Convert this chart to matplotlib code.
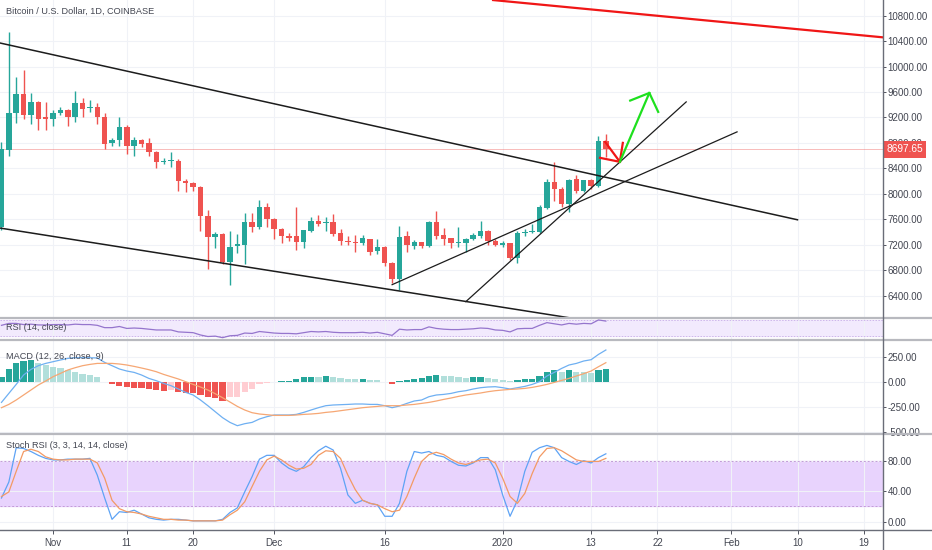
import numpy as np
import pandas as pd
import matplotlib
matplotlib.use('Agg')
from matplotlib import pyplot as plt
from matplotlib.lines import Line2D

plt.rcParams['font.family'] = ['Liberation Sans', 'DejaVu Sans']

# daily candles, Coinbase BTC/USD, from 2019-10-25
start_date = '2019-10-25'
opens = [7478, 8683, 9277, 9572, 9245, 9447, 9200, 9183, 9277, 9324, 9214, 9433, 9345, 9371, 9214,
         8792, 8839, 9058, 8745, 8839, 8792, 8651, 8500, 8510, 8510, 8197, 8165, 8102, 7649, 7320,
         7368, 6932, 7180, 7196, 7556, 7478, 7800, 7603, 7446, 7336, 7336, 7241, 7417, 7573, 7545,
         7560, 7379, 7263, 7245, 7227, 7290, 7107, 7160, 6914, 6663, 7332, 7185, 7238, 7185, 7551,
         7353, 7300, 7230, 7227, 7290, 7341, 7420, 7263, 7200, 7222, 6987, 7384, 7395, 7395, 7785,
         8187, 8083, 7838, 8229, 8046, 8218, 8124, 8828]
highs = [8807, 10545, 9840, 9950, 9590, 9460, 9447, 9324, 9370, 9340, 9622, 9510, 9480, 9420, 9277,
         8870, 9200, 9075, 8900, 8860, 8870, 8680, 8560, 8651, 8540, 8230, 8180, 8120, 7750, 7400,
         7380, 7415, 7368, 7700, 7700, 7900, 7860, 7620, 7460, 7390, 7800, 7430, 7640, 7670, 7640,
         7690, 7440, 7330, 7360, 7360, 7290, 7290, 7175, 6930, 7488, 7410, 7270, 7250, 7580, 7733,
         7455, 7310, 7472, 7300, 7380, 7576, 7430, 7290, 7263, 7230, 7420, 7450, 7520, 7830, 8240,
         8506, 8100, 8229, 8300, 8218, 8230, 8906, 8933]
lows = [7430, 8600, 9120, 9183, 9090, 9011, 8997, 9060, 9245, 9060, 9136, 9200, 9290, 9090, 8698,
        8745, 8745, 8620, 8590, 8730, 8590, 8400, 8470, 8420, 8040, 8025, 8040, 7415, 6822, 7150,
        6900, 6570, 7070, 6900, 7400, 7450, 7480, 7290, 7230, 7260, 7115, 7150, 7400, 7490, 7420,
        7340, 7190, 7200, 7090, 7200, 7040, 7050, 6870, 6600, 6496, 7090, 7130, 7150, 7170, 7290,
        7190, 7150, 7170, 7080, 7270, 7300, 7200, 7180, 7165, 6960, 6914, 7330, 7380, 7380, 7760,
        7889, 7800, 7710, 8020, 8030, 8080, 8100, 8584]
closes = [8698, 9277, 9572, 9245, 9447, 9183, 9183, 9277, 9324, 9214, 9433, 9339, 9360, 9214, 8776,
          8839, 9058, 8745, 8839, 8776, 8651, 8495, 8520, 8526, 8197, 8165, 8102, 7649, 7320, 7368,
          6932, 7165, 7213, 7556, 7478, 7800, 7603, 7446, 7336, 7310, 7241, 7430, 7573, 7520, 7560,
          7368, 7263, 7238, 7230, 7300, 7086, 7160, 6914, 6663, 7316, 7196, 7238, 7185, 7560, 7341,
          7290, 7222, 7245, 7290, 7353, 7420, 7263, 7200, 7222, 6987, 7384, 7395, 7405, 7800, 8187,
          8073, 7838, 8218, 8046, 8218, 8124, 8828, 8698]
last_price = 8697.65

rsi = [57, 62, 62, 59, 60, 58, 58, 59, 59, 58, 60, 59, 59, 57, 51, 51, 54, 49, 50, 49, 47, 45, 45, 45,
       40, 39, 38, 32, 28, 29, 25, 30, 31, 37, 36, 41, 39, 37, 36, 36, 35, 38, 41, 40, 41, 39, 38, 38,
       38, 39, 37, 39, 35, 31, 47, 45, 46, 46, 53, 49, 47, 46, 46, 47, 48, 50, 49, 45, 44, 40, 48, 49,
       49, 57, 64, 61, 58, 62, 60, 62, 61, 71, 68]

macd_line = [-207, -117, -27, 67, 123, 160, 183, 200, 217, 233, 240, 240, 240, 237, 193, 160, 127, 107,
             93, 67, 33, 10, -17, -40, -73, -107, -133, -183, -240, -300, -360, -407, -440, -420, -407,
             -373, -350, -333, -333, -333, -327, -307, -283, -260, -240, -233, -230, -227, -223, -223,
             -227, -227, -240, -260, -243, -217, -193, -183, -150, -133, -127, -117, -100, -90, -73,
             -60, -53, -50, -60, -73, -60, -47, -27, 0, 57, 93, 133, 167, 183, 207, 220, 273, 317]
signal_line = [-260, -227, -183, -133, -83, -33, 7, 50, 83, 117, 140, 160, 173, 183, 183, 183, 177, 167,
               153, 137, 120, 100, 73, 50, 27, 0, -27, -53, -83, -120, -160, -203, -247, -283, -310,
               -323, -330, -337, -337, -337, -333, -327, -323, -317, -307, -300, -290, -280, -270,
               -260, -253, -247, -240, -240, -240, -233, -227, -217, -207, -193, -177, -163, -147,
               -133, -123, -113, -100, -90, -83, -77, -73, -67, -57, -43, -27, -7, 13, 33, 57, 80,
               107, 150, 190]
macd_hist = [44, 127, 190, 207, 217, 183, 167, 150, 133, 117, 100, 80, 67, 43, 0, -27, -40, -53, -60,
             -67, -73, -83, -90, -83, -107, -113, -117, -130, -157, -163, -190, -157, -150, -107, -73,
             -27, -10, -2, 5, 6, 23, 43, 50, 50, 57, 47, 40, 27, 25, 30, 17, 13, 0, -20, 7, 17, 23, 33,
             60, 63, 60, 53, 43, 37, 50, 52, 40, 27, 17, 3, 17, 27, 30, 57, 100, 113, 100, 117, 100,
             100, 83, 117, 123]

stoch_k = [31, 52, 97, 96, 92, 87, 83, 81, 81, 82, 82, 82, 83, 61, 31, 3, 13, 12, 15, 10, 5, 3, 2, 3,
           3, 2, 1, 1, 1, 1, 3, 12, 18, 39, 59, 82, 87, 87, 77, 70, 66, 72, 84, 93, 99, 94, 70, 35,
           24, 28, 24, 22, 7, 7, 24, 66, 92, 90, 92, 87, 85, 79, 74, 73, 77, 84, 84, 68, 35, 7, 28,
           66, 91, 97, 100, 97, 84, 79, 75, 80, 77, 84, 89]
stoch_d = [33, 39, 66, 92, 95, 92, 85, 82, 81, 81, 82, 82, 82, 77, 57, 28, 17, 13, 12, 10, 7, 5, 3, 3,
           2, 2, 1, 1, 1, 1, 2, 9, 15, 26, 46, 66, 81, 86, 81, 74, 69, 70, 75, 87, 93, 92, 83, 61,
           42, 28, 24, 22, 17, 13, 15, 33, 57, 79, 88, 91, 88, 82, 77, 75, 78, 81, 82, 77, 57, 33, 24,
           37, 63, 85, 96, 97, 93, 87, 81, 79, 79, 79, 83]

tick_dates = ['2019-11-01', '2019-11-11', '2019-11-20', '2019-12-01', '2019-12-16', '2020-01-01',
              '2020-01-13', '2020-01-22', '2020-02-01', '2020-02-10', '2020-02-19']
tick_labels = ['Nov', '11', '20', 'Dec', '16', '2020', '13', '22', 'Feb', '10', '19']

price_ticks = [6400, 6800, 7200, 7600, 8000, 8400, 8800, 9200, 9600, 10000, 10400, 10800]
macd_ticks = [-500, -250, 0, 250]
stoch_ticks = [0, 40, 80]

# hand drawn lines (bar index, price)
channel_top = ([-0.2, 108.0], [10371, 7592])
channel_bottom = ([-0.2, 76.9], [7462, 6054])
support_1 = ([53.0, 99.8], [6572, 8974])
support_2 = ([63.0, 92.9], [6305, 9445])
resistance = ([66.7, 119.5], [11046, 10461])
red_arrow = ([81.9, 83.9], [8817, 8503])
red_barbs = ([81.2, 83.9, 84.3], [8566, 8503, 8801])
green_arrow = ([83.9, 87.9], [8503, 9586])
green_barbs = ([85.3, 87.9, 89.1], [9466, 9586, 9288])

UP = '#26a69a'
DOWN = '#ef5350'
GRID = '#f0f2f7'
TXT = '#434651'
W, H = 932, 550
plot_w = 883 / W


def panel(top, bottom):
    a = fig.add_axes([0, 1 - bottom / H, plot_w, (bottom - top) / H])
    for s in a.spines.values():
        s.set_visible(False)
    a.set_xlim(-0.2, 119.6)
    a.set_xticks(tick_x)
    a.tick_params(axis='x', length=0, labelbottom=False)
    a.yaxis.tick_right()
    a.tick_params(axis='y', length=2.5, width=0.7, color='#50535e', pad=0.9,
                  labelsize=7, labelcolor=TXT)
    a.grid(color=GRID, lw=0.8)
    a.set_axisbelow(True)
    return a


start = pd.Timestamp(start_date)
x = np.arange(len(opens))
tick_x = [(pd.Timestamp(d) - start).days for d in tick_dates]

o = np.array(opens)
c = np.array(closes)
candle_col = [UP if cc >= oo else DOWN for oo, cc in zip(o, c)]

fig = plt.figure(figsize=(W / 100, H / 100), dpi=100)

# price panel
ax = panel(0, 318)
ax.set_ylim(6048, 11047)
ax.set_yticks(price_ticks)
ax.set_yticklabels(['%.2f' % v for v in price_ticks])
ax.vlines(x, lows, highs, colors=candle_col, lw=1, zorder=3)
ax.bar(x, np.maximum(np.abs(c - o), 14), bottom=np.minimum(o, c), width=0.74,
       color=candle_col, zorder=4)
ax.axhline(last_price, color=DOWN, lw=0.6, alpha=0.45, zorder=2)
for ln in [channel_top, channel_bottom]:
    ax.plot(*ln, color='#1c1c1c', lw=1.1, zorder=5)
for ln in [support_1, support_2]:
    ax.plot(*ln, color='#1c1c1c', lw=0.9, zorder=5)
ax.plot(*resistance, color='#f01616', lw=1.6, zorder=5)
ax.plot(*red_arrow, color='#f01616', lw=1.6, zorder=6)
ax.plot(*red_barbs, color='#f01616', lw=1.6, zorder=6)
ax.plot(*green_arrow, color='#1ee01e', lw=1.6, zorder=6)
ax.plot(*green_barbs, color='#1ee01e', lw=1.6, zorder=6)
ax.text(0.007, 0.964, 'Bitcoin / U.S. Dollar, 1D, COINBASE', transform=ax.transAxes,
        fontsize=6.6, color=TXT, va='center')
ax.annotate('%.2f' % last_price, xy=(1.0, last_price), xycoords=('axes fraction', 'data'),
            xytext=(2.2, 0), textcoords='offset points', va='center', ha='left',
            fontsize=7.3, color='white', annotation_clip=False, zorder=10,
            bbox=dict(boxstyle='square,pad=0.32', fc=DOWN, ec='none'))

# RSI panel
ar = panel(318, 340)
ar.set_ylim(19, 76)
ar.set_yticks([])
ar.axhspan(30, 70, color='#f2eafd', zorder=0)
for lv in [30, 70]:
    ar.axhline(lv, color='#cdb6ea', lw=0.7, ls=(0, (1.5, 1.5)), zorder=1)
ar.plot(x, rsi, color='#9575cd', lw=0.9, zorder=3)
ar.text(0.007, 0.55, 'RSI (14, close)', transform=ar.transAxes, fontsize=6.6,
        color=TXT, va='center')

# MACD panel
am = panel(340, 434)
am.set_ylim(-523, 417)
am.set_yticks(macd_ticks)
am.set_yticklabels(['%.2f' % v for v in macd_ticks])
hist_col = []
for k, hv in enumerate(macd_hist):
    prev = macd_hist[k - 1] if k > 0 else 0
    if hv >= 0:
        hist_col.append(UP if hv > prev else '#b2dfdb')
    else:
        hist_col.append(DOWN if hv < prev else '#ffcdd2')
am.bar(x, macd_hist, width=0.84, color=hist_col, zorder=2)
am.plot(x, macd_line, color='#6fb0f2', lw=0.9, zorder=3)
am.plot(x, signal_line, color='#f6a774', lw=0.9, zorder=3)
am.text(0.007, 0.82, 'MACD (12, 26, close, 9)', transform=am.transAxes, fontsize=6.6,
        color=TXT, va='center')

# Stoch RSI panel
ast = panel(434, 530)
ast.set_ylim(-11, 115)
ast.set_yticks(stoch_ticks)
ast.set_yticklabels(['%.2f' % v for v in stoch_ticks])
ast.axhspan(20, 80, color='#e8d3fd', zorder=0)
for lv in [20, 80]:
    ast.axhline(lv, color='#c39bd8', lw=0.7, ls=(0, (2, 2)), zorder=1)
ast.plot(x, stoch_k, color='#5ea3f5', lw=0.9, zorder=3)
ast.plot(x, stoch_d, color='#f39a64', lw=0.9, zorder=3)
ast.text(0.007, 0.875, 'Stoch RSI (3, 3, 14, 14, close)', transform=ast.transAxes,
         fontsize=6.6, color=TXT, va='center')
ast.tick_params(axis='x', length=3, width=0.7, color='#50535e', pad=3,
                labelbottom=True, labelsize=7, labelcolor=TXT)
ast.set_xticklabels(tick_labels)

# panel separators and axis lines
for yy in [318, 340, 434]:
    fig.add_artist(Line2D([0, 1], [1 - yy / H] * 2, transform=fig.transFigure,
                          color='#b8b9bf', lw=1.6))
fig.add_artist(Line2D([0, 1], [1 - 530 / H] * 2, transform=fig.transFigure,
                      color='#6a6d78', lw=1.0))
fig.add_artist(Line2D([plot_w] * 2, [0, 1], transform=fig.transFigure,
                      color='#6a6d78', lw=1.0))

fig.savefig('out.png', dpi=100, facecolor='white')
